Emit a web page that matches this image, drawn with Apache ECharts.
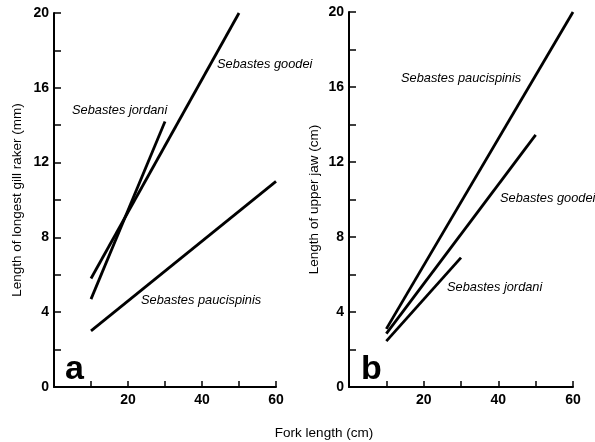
<!DOCTYPE html>
<html><head><meta charset="utf-8">
<script src="https://cdn.jsdelivr.net/npm/echarts@6/dist/echarts.min.js"></script>
<style>html,body{margin:0;padding:0;background:#fff}#c{width:595px;height:442px}</style>
</head><body><div id="c"></div>
<script>
// Panel a: length of longest gill raker (mm) vs fork length (cm)
const forkA_jordani = [10, 30];
const gillA_jordani = [4.7, 14.2];
const forkA_goodei = [10, 50];
const gillA_goodei = [5.8, 20];
const forkA_pauci = [10, 60];
const gillA_pauci = [3.0, 11.0];
// Panel b: length of upper jaw (cm) vs fork length (cm)
const forkB_pauci = [10, 60];
const jawB_pauci = [3.1, 20];
const forkB_goodei = [10, 50];
const jawB_goodei = [2.85, 13.45];
const forkB_jordani = [10, 30];
const jawB_jordani = [2.45, 6.9];

const xTickLabels = [20, 40, 60];
const yTickLabels = [0, 4, 8, 12, 16, 20];

const pairs = (xs, ys) => xs.map((x, i) => [x, ys[i]]);
const font = 'Liberation Sans, Arial, sans-serif';

function xAxis(idx) {
  return {
    type: 'value', gridIndex: idx, min: 0, max: 60, interval: 10,
    axisLine: {lineStyle: {color: '#000', width: 2}},
    axisTick: {inside: true, length: 6, lineStyle: {color: '#000', width: 1.5}},
    splitLine: {show: false},
    axisLabel: {
      color: '#000', fontFamily: font, fontSize: 14, fontWeight: 'bold', margin: 6,
      formatter: v => xTickLabels.includes(v) ? String(v) : ''
    }
  };
}
function yAxis(idx, name, gap) {
  return {
    type: 'value', gridIndex: idx, min: 0, max: 20, interval: 2,
    name: name, nameLocation: 'middle', nameGap: gap, nameRotate: 90,
    nameTextStyle: {color: '#000', fontFamily: font, fontSize: 13.5},
    axisLine: {show: true, lineStyle: {color: '#000', width: 2}},
    axisTick: {show: true, inside: true, length: 7, lineStyle: {color: '#000', width: 1.5}},
    splitLine: {show: false},
    axisLabel: {
      color: '#000', fontFamily: font, fontSize: 14, fontWeight: 'bold', margin: 5,
      formatter: v => yTickLabels.includes(v) ? String(v) : ''
    }
  };
}
function line(name, xi, data) {
  return {
    name: name, type: 'line', xAxisIndex: xi, yAxisIndex: xi, data: data,
    symbol: 'none', lineStyle: {color: '#000', width: 2.8}, silent: true, animation: false
  };
}
const italic = (text, x, y) => ({
  type: 'text', x: x, y: y,
  style: {text: text, fill: '#000', font: 'italic 12.8px ' + font, verticalAlign: 'middle'}
});

const chart = echarts.init(document.getElementById('c'), null, {renderer: 'canvas'});
chart.setOption({
  animation: false,
  grid: [
    {left: 54, top: 13, width: 222, height: 374},
    {left: 349, top: 12, width: 224, height: 375}
  ],
  xAxis: [xAxis(0), xAxis(1)],
  yAxis: [yAxis(0, 'Length of longest gill raker (mm)', 30), yAxis(1, 'Length of upper jaw (cm)', 28)],
  series: [
    line('Sebastes jordani', 0, pairs(forkA_jordani, gillA_jordani)),
    line('Sebastes goodei', 0, pairs(forkA_goodei, gillA_goodei)),
    line('Sebastes paucispinis', 0, pairs(forkA_pauci, gillA_pauci)),
    line('Sebastes paucispinis', 1, pairs(forkB_pauci, jawB_pauci)),
    line('Sebastes goodei', 1, pairs(forkB_goodei, jawB_goodei)),
    line('Sebastes jordani', 1, pairs(forkB_jordani, jawB_jordani))
  ],
  graphic: [
    italic('Sebastes goodei', 217, 64),
    italic('Sebastes jordani', 72, 110),
    italic('Sebastes paucispinis', 141, 300),
    italic('Sebastes paucispinis', 401, 78),
    italic('Sebastes goodei', 500, 198),
    italic('Sebastes jordani', 447, 287),
    {type: 'text', x: 65, y: 370, style: {text: 'a', fill: '#000', font: 'bold 34px ' + font, verticalAlign: 'middle'}},
    {type: 'text', x: 361, y: 370, style: {text: 'b', fill: '#000', font: 'bold 34px ' + font, verticalAlign: 'middle'}},
    {type: 'text', x: 324, y: 433, style: {text: 'Fork length (cm)', fill: '#000', font: '13.5px ' + font, align: 'center', verticalAlign: 'middle'}}
  ]
});
</script></body></html>
